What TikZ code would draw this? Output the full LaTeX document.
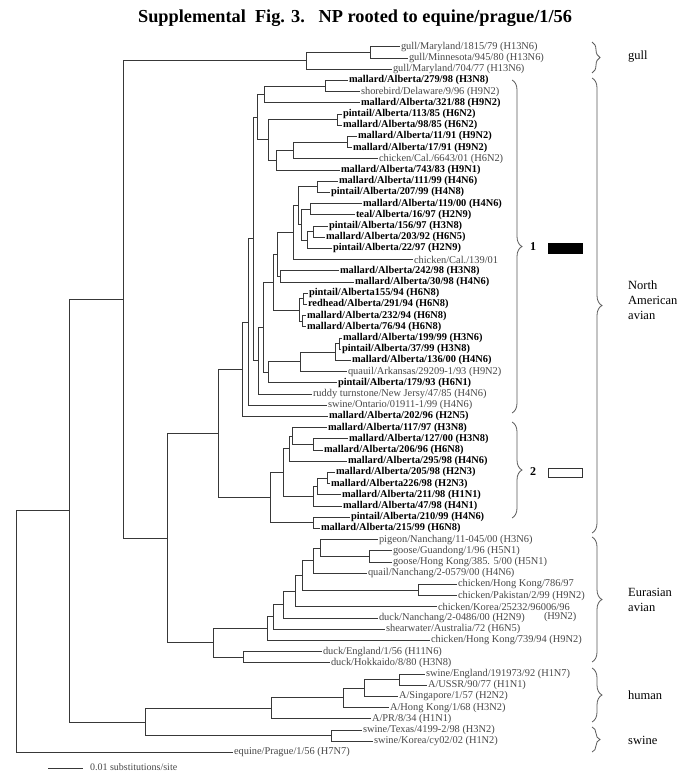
\documentclass[tikz,border=0pt]{standalone}
\usepackage{fontspec}
\setmainfont{Liberation Serif}
\usetikzlibrary{decorations.pathreplacing}
\begin{document}
\begin{tikzpicture}[x=1pt,y=-1pt,
  br/.style={draw=black!78, line width=0.85pt},
  tipn/.style={anchor=west, inner sep=0.8pt, font=\fontsize{10.4}{10.4}\selectfont, text=black!72},
  tipb/.style={anchor=west, inner sep=0.8pt, font=\fontsize{10.4}{10.4}\selectfont\bfseries, text=black},
  grp/.style={anchor=west, inner sep=0pt, font=\fontsize{12.5}{15}\selectfont, align=left, text=black},
  brc/.style={draw=black!65, line width=0.8pt, decorate, decoration={brace, amplitude=10pt, aspect=0.5}}]
\useasboundingbox (0,0) rectangle (700,776);
\node[font=\fontsize{18.3}{18.3}\selectfont\bfseries] (title) at (355,18) {Supplemental\ \ Fig. 3.\ \ \ NP rooted to equine/prague/1/56};
% ---------- tips ----------
\node[tipn] (t1) at (400,46.8) {gull/Maryland/1815/79 (H13N6)};
\node[tipn] (t2) at (408,58.0) {gull/Minnesota/945/80 (H13N6)};
\node[tipn] (t3) at (392,69.2) {gull/Maryland/704/77 (H13N6)};
\node[tipb] (t4) at (348,80.4) {mallard/Alberta/279/98 (H3N8)};
\node[tipn] (t5) at (360,91.6) {shorebird/Delaware/9/96 (H9N2)};
\node[tipb] (t6) at (360,102.8) {mallard/Alberta/321/88 (H9N2)};
\node[tipb] (t7) at (342,114.0) {pintail/Alberta/113/85 (H6N2)};
\node[tipb] (t8) at (342,125.2) {mallard/Alberta/98/85 (H6N2)};
\node[tipb] (t9) at (357,136.4) {mallard/Alberta/11/91 (H9N2)};
\node[tipb] (t10) at (352,147.6) {mallard/Alberta/17/91 (H9N2)};
\node[tipn] (t11) at (378,158.8) {chicken/Cal./6643/01 (H6N2)};
\node[tipb] (t12) at (340,170.0) {mallard/Alberta/743/83 (H9N1)};
\node[tipb] (t13) at (338,181.2) {mallard/Alberta/111/99 (H4N6)};
\node[tipb] (t14) at (330,192.4) {pintail/Alberta/207/99 (H4N8)};
\node[tipb] (t15) at (362,203.6) {mallard/Alberta/119/00 (H4N6)};
\node[tipb] (t16) at (355,214.8) {teal/Alberta/16/97 (H2N9)};
\node[tipb] (t17) at (328,226.0) {pintail/Alberta/156/97 (H3N8)};
\node[tipb] (t18) at (325,237.2) {mallard/Alberta/203/92 (H6N5)};
\node[tipb] (t19) at (332,248.4) {pintail/Alberta/22/97 (H2N9)};
\node[tipn] (t20) at (413,259.6) {chicken/Cal./139/01};
\node[tipb] (t21) at (339,270.8) {mallard/Alberta/242/98 (H3N8)};
\node[tipb] (t22) at (354,282.0) {mallard/Alberta/30/98 (H4N6)};
\node[tipb] (t23) at (308,293.2) {pintail/Alberta155/94 (H6N8)};
\node[tipb] (t24) at (307,304.4) {redhead/Alberta/291/94 (H6N8)};
\node[tipb] (t25) at (306,315.6) {mallard/Alberta/232/94 (H6N8)};
\node[tipb] (t26) at (306,326.8) {mallard/Alberta/76/94 (H6N8)};
\node[tipb] (t27) at (342,338.0) {mallard/Alberta/199/99 (H3N6)};
\node[tipb] (t28) at (341,349.2) {pintail/Alberta/37/99 (H3N8)};
\node[tipb] (t29) at (351,360.4) {mallard/Alberta/136/00 (H4N6)};
\node[tipn] (t30) at (347,371.6) {quauil/Arkansas/29209-1/93 (H9N2)};
\node[tipb] (t31) at (337,382.8) {pintail/Alberta/179/93 (H6N1)};
\node[tipn] (t32) at (312,394.0) {ruddy turnstone/New Jersy/47/85 (H4N6)};
\node[tipn] (t33) at (327,405.2) {swine/Ontario/01911-1/99 (H4N6)};
\node[tipb] (t34) at (328,416.4) {mallard/Alberta/202/96 (H2N5)};
\node[tipb] (t35) at (327,427.6) {mallard/Alberta/117/97 (H3N8)};
\node[tipb] (t36) at (348,438.8) {mallard/Alberta/127/00 (H3N8)};
\node[tipb] (t37) at (323,450.0) {mallard/Alberta/206/96 (H6N8)};
\node[tipb] (t38) at (347,461.2) {mallard/Alberta/295/98 (H4N6)};
\node[tipb] (t39) at (335,472.4) {mallard/Alberta/205/98 (H2N3)};
\node[tipb] (t40) at (330,483.6) {mallard/Alberta226/98 (H2N3)};
\node[tipb] (t41) at (341,494.8) {mallard/Alberta/211/98 (H1N1)};
\node[tipb] (t42) at (342,506.0) {mallard/Alberta/47/98 (H4N1)};
\node[tipb] (t43) at (350,517.2) {pintail/Alberta/210/99 (H4N6)};
\node[tipb] (t44) at (320,528.4) {mallard/Alberta/215/99 (H6N8)};
\node[tipn] (t45) at (378,539.6) {pigeon/Nanchang/11-045/00 (H3N6)};
\node[tipn] (t46) at (392,550.8) {goose/Guandong/1/96 (H5N1)};
\node[tipn] (t47) at (392,562.0) {goose/Hong Kong/385. 5/00 (H5N1)};
\node[tipn] (t48) at (367,573.2) {quail/Nanchang/2-0579/00 (H4N6)};
\node[tipn] (t49) at (457,584.4) {chicken/Hong Kong/786/97};
\node[tipn] (t50) at (457,595.6) {chicken/Pakistan/2/99 (H9N2)};
\node[tipn] (t51) at (437,606.8) {chicken/Korea/25232/96006/96};
\node[tipn] (t51b) at (543,617) {(H9N2)};
\node[tipn] (t52) at (378,618.0) {duck/Nanchang/2-0486/00 (H2N9)};
\node[tipn] (t53) at (385,629.2) {shearwater/Australia/72 (H6N5)};
\node[tipn] (t54) at (430,640.4) {chicken/Hong Kong/739/94 (H9N2)};
\node[tipn] (t55) at (322,651.6) {duck/England/1/56 (H11N6)};
\node[tipn] (t56) at (330,662.8) {duck/Hokkaido/8/80 (H3N8)};
\node[tipn] (t57) at (425,674.0) {swine/England/191973/92 (H1N7)};
\node[tipn] (t58) at (427,685.2) {A/USSR/90/77 (H1N1)};
\node[tipn] (t59) at (398,696.4) {A/Singapore/1/57 (H2N2)};
\node[tipn] (t60) at (389,707.6) {A/Hong Kong/1/68 (H3N2)};
\node[tipn] (t61) at (371,718.8) {A/PR/8/34 (H1N1)};
\node[tipn] (t62) at (362,730.0) {swine/Texas/4199-2/98 (H3N2)};
\node[tipn] (t63) at (373,741.2) {swine/Korea/cy02/02 (H1N2)};
\node[tipn] (t64) at (233,752.4) {equine/Prague/1/56 (H7N7)};
% ---------- internal nodes ----------
\coordinate (R0) at (16,631.55);
\coordinate (N1) at (69,510.7);
\coordinate (N2) at (123,299.5);
\coordinate (Ng) at (306,60.8);
\coordinate (Ng2) at (370,52.4);
\coordinate (N3) at (167,538.15);
\coordinate (N4) at (218,433.4);
\coordinate (N5) at (242,369.2);
\coordinate (N6) at (248,322.05);
\coordinate (N7) at (253,238.9);
\coordinate (N8) at (257,117.15);
\coordinate (N23) at (264,94.4);
\coordinate (Npa) at (325,86.0);
\coordinate (B) at (268,139.9);
\coordinate (Nb7) at (337,119.6);
\coordinate (C) at (276,160.2);
\coordinate (D) at (293,150.4);
\coordinate (Nd9) at (347,142.0);
\coordinate (N9) at (258,360.65);
\coordinate (N10) at (263,327.3);
\coordinate (N15) at (273,282.25);
\coordinate (N17) at (277,254.5);
\coordinate (N18) at (280,276.4);
\coordinate (N19) at (293,232.65);
\coordinate (N20) at (298,205.7);
\coordinate (Np13) at (317,186.8);
\coordinate (N21) at (301,224.6);
\coordinate (Np15) at (310,209.2);
\coordinate (N22) at (307,240.0);
\coordinate (Np17) at (313,231.6);
\coordinate (N16) at (299,310.0);
\coordinate (N16a) at (303,298.8);
\coordinate (N16b) at (302,321.2);
\coordinate (N11) at (268,372.3);
\coordinate (N12) at (300,361.8);
\coordinate (N13) at (335,352.0);
\coordinate (N14) at (339,343.6);
\coordinate (C2) at (270,497.6);
\coordinate (C2a) at (283,472.4);
\coordinate (N43) at (313,522.8);
\coordinate (N38) at (289,448.6);
\coordinate (N35) at (292,436.0);
\coordinate (Np36) at (313,444.4);
\coordinate (N42) at (313,496.2);
\coordinate (N41) at (317,486.4);
\coordinate (Np39) at (327,478.0);
\coordinate (Ne) at (213,642.9);
\coordinate (N243) at (243,657.2);
\coordinate (N267) at (267,628.6);
\coordinate (N273e) at (273,616.85);
\coordinate (N283e) at (283,604.5);
\coordinate (N295) at (295,591.05);
\coordinate (N302) at (302,575.3);
\coordinate (N49) at (418,590.0);
\coordinate (N48) at (313,560.6);
\coordinate (N45) at (320,548.0);
\coordinate (N46) at (369,556.4);
\coordinate (Nh) at (145,721.95);
\coordinate (N331) at (331,735.6);
\coordinate (N271) at (271,708.3);
\coordinate (N343) at (343,697.8);
\coordinate (N364) at (364,688.0);
\coordinate (N399) at (399,679.6);
% ---------- branches ----------
\draw[br] (R0) |- (N1) (R0) |- (t64.west);
\draw[br] (N1) |- (N2) (N1) |- (Nh);
\draw[br] (N2) |- (Ng) (N2) |- (N3);
\draw[br] (Ng) |- (Ng2) (Ng) |- (t3.west);
\draw[br] (Ng2) |- (t1.west) (Ng2) |- (t2.west);
\draw[br] (N3) |- (N4) (N3) |- (Ne);
\draw[br] (N4) |- (N5) (N4) |- (C2);
\draw[br] (N5) |- (N6) (N5) |- (t34.west);
\draw[br] (N6) |- (N7) (N6) |- (t33.west);
\draw[br] (N7) |- (N8) (N7) |- (N9);
\draw[br] (N8) |- (N23) (N8) |- (B);
\draw[br] (N23) |- (Npa) (N23) |- (t6.west);
\draw[br] (Npa) |- (t4.west) (Npa) |- (t5.west);
\draw[br] (B) |- (Nb7) (B) |- (C);
\draw[br] (Nb7) |- (t7.west) (Nb7) |- (t8.west);
\draw[br] (C) |- (D) (C) |- (t12.west);
\draw[br] (D) |- (Nd9) (D) |- (t11.west);
\draw[br] (Nd9) |- (t9.west) (Nd9) |- (t10.west);
\draw[br] (N9) |- (N10) (N9) |- (t32.west);
\draw[br] (N10) |- (N15) (N10) |- (N11);
\draw[br] (N15) |- (N17) (N15) |- (N16);
\draw[br] (N17) |- (N19) (N17) |- (N18);
\draw[br] (N18) |- (t21.west) (N18) |- (t22.west);
\draw[br] (N19) |- (N20) (N19) |- (t20.west);
\draw[br] (N20) |- (Np13) (N20) |- (N21);
\draw[br] (Np13) |- (t13.west) (Np13) |- (t14.west);
\draw[br] (N21) |- (Np15) (N21) |- (N22);
\draw[br] (Np15) |- (t15.west) (Np15) |- (t16.west);
\draw[br] (N22) |- (Np17) (N22) |- (t19.west);
\draw[br] (Np17) |- (t17.west) (Np17) |- (t18.west);
\draw[br] (N16) |- (N16a) (N16) |- (N16b);
\draw[br] (N16a) |- (t23.west) (N16a) |- (t24.west);
\draw[br] (N16b) |- (t25.west) (N16b) |- (t26.west);
\draw[br] (N11) |- (N12) (N11) |- (t31.west);
\draw[br] (N12) |- (N13) (N12) |- (t30.west);
\draw[br] (N13) |- (N14) (N13) |- (t29.west);
\draw[br] (N14) |- (t27.west) (N14) |- (t28.west);
\draw[br] (C2) |- (C2a) (C2) |- (N43);
\draw[br] (N43) |- (t43.west) (N43) |- (t44.west);
\draw[br] (C2a) |- (N38) (C2a) |- (N42);
\draw[br] (N38) |- (N35) (N38) |- (t38.west);
\draw[br] (N35) |- (t35.west) (N35) |- (Np36);
\draw[br] (Np36) |- (t36.west) (Np36) |- (t37.west);
\draw[br] (N42) |- (N41) (N42) |- (t42.west);
\draw[br] (N41) |- (Np39) (N41) |- (t41.west);
\draw[br] (Np39) |- (t39.west) (Np39) |- (t40.west);
\draw[br] (Ne) |- (N267) (Ne) |- (N243);
\draw[br] (N243) |- (t55.west) (N243) |- (t56.west);
\draw[br] (N267) |- (N273e) (N267) |- (t54.west);
\draw[br] (N273e) |- (N283e) (N273e) |- (t53.west);
\draw[br] (N283e) |- (N295) (N283e) |- (t52.west);
\draw[br] (N295) |- (N302) (N295) |- (t51.west);
\draw[br] (N302) |- (N48) (N302) |- (N49);
\draw[br] (N49) |- (t49.west) (N49) |- (t50.west);
\draw[br] (N48) |- (N45) (N48) |- (t48.west);
\draw[br] (N45) |- (t45.west) (N45) |- (N46);
\draw[br] (N46) |- (t46.west) (N46) |- (t47.west);
\draw[br] (Nh) |- (N271) (Nh) |- (N331);
\draw[br] (N331) |- (t62.west) (N331) |- (t63.west);
\draw[br] (N271) |- (N343) (N271) |- (t61.west);
\draw[br] (N343) |- (N364) (N343) |- (t60.west);
\draw[br] (N364) |- (N399) (N364) |- (t59.west);
\draw[br] (N399) |- (t57.west) (N399) |- (t58.west);
% ---------- scale bar ----------
\coordinate (sb1) at (48,768);
\coordinate (sb2) at (83,768);
\draw[br] (sb1) -- (sb2);
\node[tipn, font=\fontsize{10}{10}\selectfont] (sbt) at (89,767) {0.01 substitutions/site};
% ---------- braces ----------
\coordinate (b1a) at (512,80); \coordinate (b1b) at (512,413);
\draw[brc] (b1a) -- (b1b);
\node[font=\fontsize{12}{12}\selectfont\bfseries, anchor=west, inner sep=0pt] (l1) at (530,247) {1};
\node[fill=black, draw=black, minimum width=34pt, minimum height=10pt, inner sep=0pt, anchor=west] (box1) at (548,248) {};
\coordinate (b2a) at (512,422); \coordinate (b2b) at (512,518);
\draw[brc] (b2a) -- (b2b);
\node[font=\fontsize{12}{12}\selectfont\bfseries, anchor=west, inner sep=0pt] (l2) at (530,472) {2};
\node[draw=black!80, line width=0.8pt, minimum width=34pt, minimum height=9pt, inner sep=0pt, anchor=west] (box2) at (548,473) {};
\coordinate (bga) at (592,42); \coordinate (bgb) at (592,73);
\draw[brc, decoration={brace, amplitude=8pt}] (bga) -- (bgb);
\node[grp] (lg) at (628,57) {gull};
\coordinate (bna) at (592,78); \coordinate (bnb) at (592,533);
\draw[brc] (bna) -- (bnb);
\node[grp] (ln) at (628,300) {North\\American\\avian};
\coordinate (bea) at (592,537); \coordinate (beb) at (592,662);
\draw[brc] (bea) -- (beb);
\node[grp] (le) at (628,600) {Eurasian\\avian};
\coordinate (bha) at (592,668); \coordinate (bhb) at (592,722);
\draw[brc] (bha) -- (bhb);
\node[grp] (lh) at (628,695) {human};
\coordinate (bsa) at (592,727); \coordinate (bsb) at (592,752);
\draw[brc, decoration={brace, amplitude=8pt}] (bsa) -- (bsb);
\node[grp] (ls) at (628,740) {swine};
\end{tikzpicture}
\end{document}
